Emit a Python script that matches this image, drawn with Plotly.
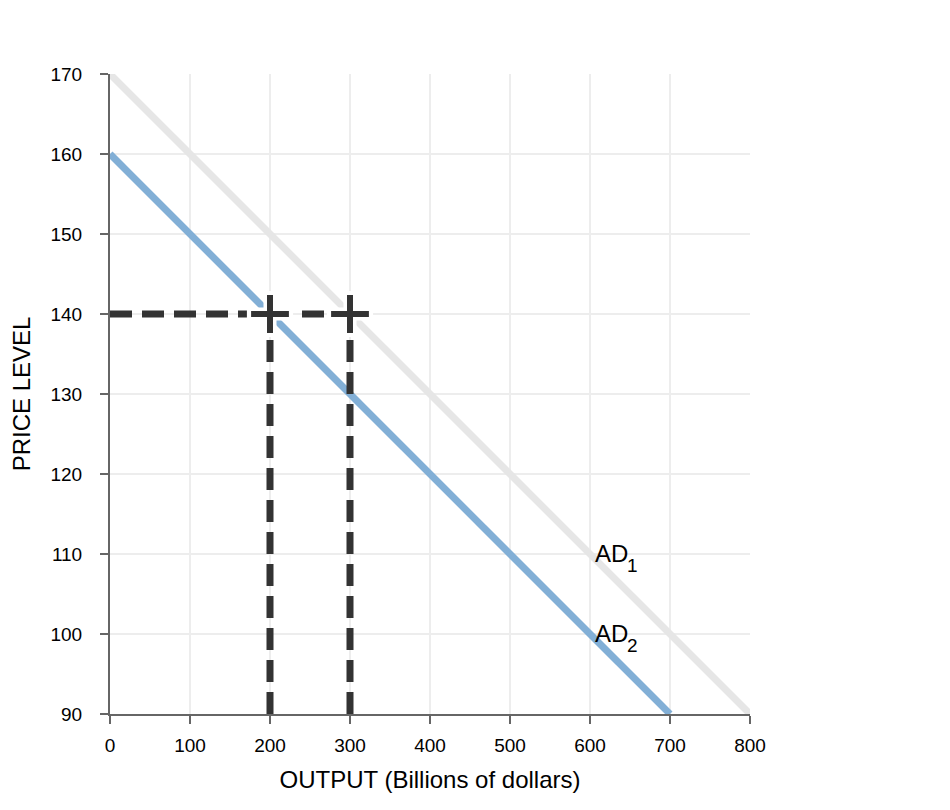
import plotly.graph_objects as go

# Data
ad1_x = [0, 800]
ad1_y = [170, 90]
ad2_x = [0, 700]
ad2_y = [160, 90]
price_level = 140
outputs = [200, 300]
h_line_x = [0, 310]
x_ticks = [0, 100, 200, 300, 400, 500, 600, 700, 800]
y_ticks = [90, 100, 110, 120, 130, 140, 150, 160, 170]
label_main = ["AD", "AD"]
label_sub = ["1", "2"]
label_x = [604, 604]
label_y = [110, 100]

FONT = "Arial, Liberation Sans, sans-serif"
DARK = "#333333"

fig = go.Figure()

fig.add_trace(go.Scatter(x=ad1_x, y=ad1_y, mode="lines",
                         line=dict(color="#e6e6e6", width=7), hoverinfo="skip"))
fig.add_trace(go.Scatter(x=ad2_x, y=ad2_y, mode="lines",
                         line=dict(color="#82afd6", width=7), hoverinfo="skip"))

# horizontal dashed line at price level
fig.add_trace(go.Scatter(x=h_line_x, y=[price_level, price_level], mode="lines",
                         line=dict(color=DARK, width=7, dash="22px,10px"), hoverinfo="skip"))
# vertical dashed lines
for xv in outputs:
    fig.add_trace(go.Scatter(x=[xv, xv], y=[y_ticks[0], price_level], mode="lines",
                             line=dict(color=DARK, width=7, dash="22px,10px"), hoverinfo="skip"))

# cross markers with white halo
fig.add_trace(go.Scatter(x=outputs, y=[price_level] * len(outputs), mode="markers",
                         marker=dict(symbol="cross-thin", size=33,
                                     line=dict(color="white", width=13)),
                         hoverinfo="skip", cliponaxis=False))
fig.add_trace(go.Scatter(x=outputs, y=[price_level] * len(outputs), mode="markers",
                         marker=dict(symbol="cross-thin", size=27,
                                     line=dict(color=DARK, width=6)),
                         hoverinfo="skip", cliponaxis=False))

for m, s, xx, yy in zip(label_main, label_sub, label_x, label_y):
    fig.add_annotation(x=xx, y=yy, text=m, showarrow=False, xanchor="left",
                       yanchor="middle", yshift=1,
                       font=dict(family=FONT, size=24, color="black"))
    fig.add_annotation(x=xx, y=yy, text=s, showarrow=False, xanchor="left",
                       yanchor="middle", xshift=32, yshift=-11,
                       font=dict(family=FONT, size=19, color="black"))

axis_common = dict(showgrid=True, gridcolor="#ededed", gridwidth=2,
                   showline=True, linecolor="#666666", linewidth=2,
                   ticks="outside", ticklen=8, tickwidth=2, tickcolor="#666666",
                   zeroline=False, tickfont=dict(family=FONT, size=19, color="black"))

fig.update_xaxes(range=[0, 800], tickvals=x_ticks, ticklabelstandoff=5,
                 title=dict(text="OUTPUT (Billions of dollars)",
                            font=dict(family=FONT, size=24, color="black"), standoff=16),
                 **axis_common)
fig.update_yaxes(range=[90, 170], tickvals=y_ticks, ticklabelstandoff=14,
                 title=dict(text="PRICE LEVEL",
                            font=dict(family=FONT, size=24, color="black"), standoff=13),
                 **axis_common)

fig.update_layout(width=942, height=802, showlegend=False,
                  plot_bgcolor="white", paper_bgcolor="white",
                  margin=dict(l=102, r=200, t=66, b=96),
                  font=dict(family=FONT))

fig.write_html("out.html")
